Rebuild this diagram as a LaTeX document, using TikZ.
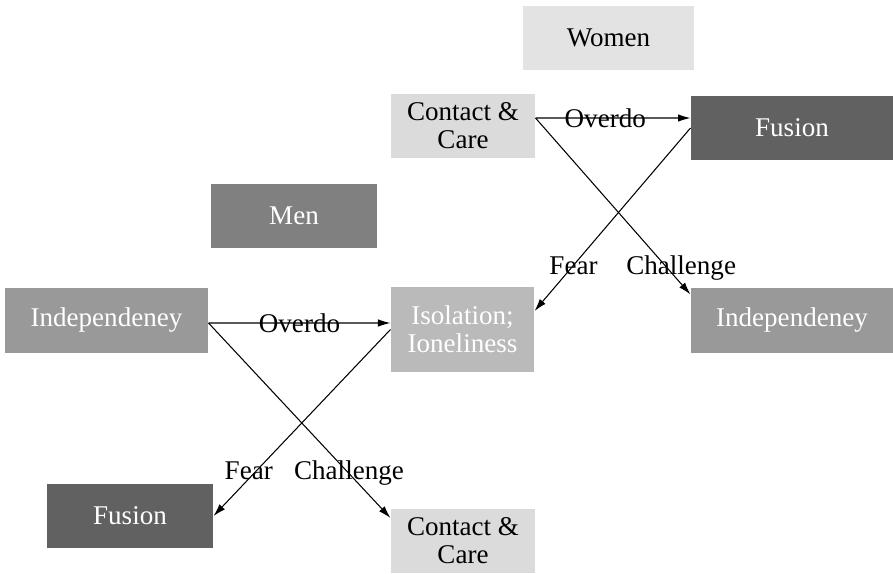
\documentclass[tikz,border=0pt]{standalone}
\usepackage{fontspec}
\setmainfont{Liberation Serif}
\usetikzlibrary{arrows.meta}

\begin{document}
\begin{tikzpicture}[x=0.02cm, y=-0.02cm, line width=0.6pt, font=\fontsize{15.4}{15.8}\selectfont, box/.style={rectangle, inner sep=0pt, align=center, minimum height=1.3cm}, pale box/.style={box, fill=black!14, text=black}, mid box/.style={box, fill=black!50, text=white}, dark box/.style={box, fill=black!62, text=white}, grey box/.style={box, fill=black!40, text=white}, iso box/.style={box, fill=black!27, text=white}, link/.style={-{Latex[length=2.5mm, width=1.5mm]}}] %pixel units of the source picture, y downwards
\useasboundingbox (0,0) rectangle (893,574);
\node[pale box, fill=black!11, minimum width=3.42cm](women) at (608.5,38) {Women};
\node[pale box, minimum width=2.88cm, minimum height=1.28cm](ccA) at (463,126) {Contact \&\\Care};
\node[dark box, minimum width=4.04cm](fusA) at (792,128) {Fusion};
\node[mid box, minimum width=3.32cm](men) at (294,216) {Men};
\node[grey box, minimum width=4.06cm](indL) at (106.5,320.5) {Independeney};
\node[iso box, minimum width=2.86cm, minimum height=1.7cm](iso) at (462.5,329.5) {Isolation;\\Ioneliness};
\node[grey box, minimum width=4.04cm](indR) at (792,320.5) {Independeney};
\node[dark box, minimum width=3.32cm](fusB) at (130,516) {Fusion};
\node[pale box, minimum width=2.88cm, minimum height=1.28cm](ccB) at (463,541) {Contact \&\\Care};

% women
\draw[link] ([yshift=.16cm]ccA.east) -- node[pos=.45]{Overdo} ([yshift=.2cm]fusA.west);
\draw[link] ([yshift=.16cm]ccA.east) -- node[pos=.83, xshift=.34cm, yshift=-.07cm]{Challenge} ([yshift=-.14cm]indR.north west);
\draw[link] (fusA.west) -- node[pos=.75, yshift=-.02cm]{Fear} ([yshift=.37cm]iso.east);
% men
\draw[link] ([yshift=-.05cm]indL.east) -- node[pos=.5]{Overdo} ([yshift=.13cm]iso.west);
\draw[link] ([yshift=-.05cm]indL.east) -- node[pos=.75, xshift=.08cm, yshift=-.07cm]{Challenge} ([yshift=.46cm]ccB.west);
\draw[link] (iso.west) -- node[pos=.75, xshift=-.18cm, yshift=-.02cm]{Fear} (fusB.east);
\end{tikzpicture}
\end{document}
